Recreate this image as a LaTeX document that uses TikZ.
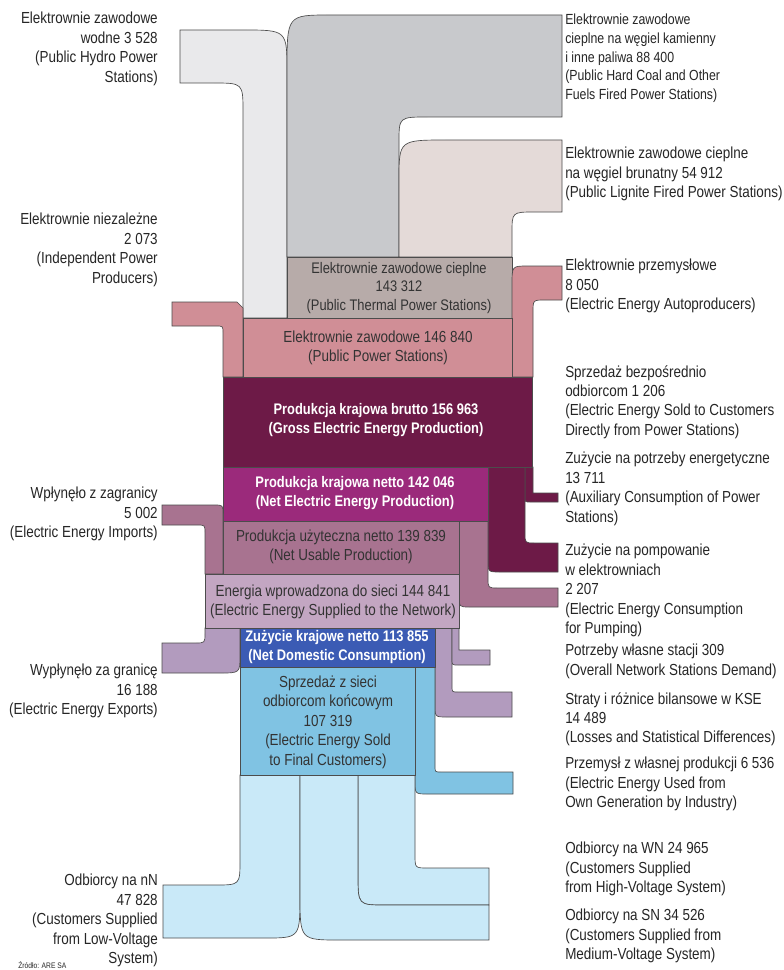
\documentclass[tikz,border=0pt]{standalone}
\usepackage{fontspec}
\setmainfont[FakeStretch=0.84]{Liberation Sans}
\definecolor{hydro}{HTML}{E9E9EB}
\definecolor{coal}{HTML}{C8C9CC}
\definecolor{lignite}{HTML}{E4DAD8}
\definecolor{thermal}{HTML}{B7ABA9}
\definecolor{public}{HTML}{D08E96}
\definecolor{gross}{HTML}{6D1A47}
\definecolor{netprod}{HTML}{9B2A7B}
\definecolor{usable}{HTML}{A87390}
\definecolor{network}{HTML}{C3A6C2}
\definecolor{export}{HTML}{B29BBE}
\definecolor{domestic}{HTML}{3B5BB4}
\definecolor{final}{HTML}{80C3E3}
\definecolor{users}{HTML}{C9E9F8}
\begin{document}
\begin{tikzpicture}[x=0.75pt,y=-0.75pt,font=\fontsize{12}{14.6}\selectfont,
		part/.style={draw=black!70,line width=0.5pt},
		lleft/.style={anchor=north east,align=right,inner sep=0pt,text=black!85},
		lright/.style={anchor=north west,align=left,inner sep=0pt,text=black!85},
		boxtext/.style={align=center,inner sep=0pt,text=black!80},
		boxbold/.style={align=center,inner sep=0pt,text=white,font=\fontsize{11.5}{14}\selectfont\bfseries}]
	\useasboundingbox [fill=white] (0,0) rectangle (783,970);
	\draw [part,fill=hydro] (180,30) -- (243,30) .. controls (287,30) .. (287,72) -- (287,318) -- (243,318) -- (243,112) .. controls (243,83) .. (213,83) -- (180,83) -- cycle;
	\draw [part,fill=coal] (562,15) -- (330,15) .. controls (287,15) .. (287,70) -- (287,257) -- (399,257) -- (399,142) .. controls (399,117) .. (428,117) -- (562,117) -- cycle;
	\draw [part,fill=lignite] (562,140) -- (447,140) .. controls (399,140) .. (399,180) -- (399,257) -- (512,257) -- (512,233) .. controls (512,212) .. (535,212) -- (562,212) -- cycle;
	\draw [part,fill=thermal] (287,257) rectangle (512,318);
	\draw [part,fill=public] (172,302) -- (237,302) -- (243,308) -- (243,377) -- (223,377) -- (223,333) .. controls (223,326) .. (216,326) -- (172,326) -- cycle;
	\draw [part,fill=public] (562,266) -- (528,266) .. controls (512,266) .. (512,284) -- (512,377) -- (533,377) -- (533,312) .. controls (533,300) .. (545,300) -- (562,300) -- cycle;
	\draw [part,fill=public] (243,318) rectangle (512,377);
	\draw [part,fill=gross] (525,467) -- (533,467) -- (533,493) -- (558,493) -- (558,502) -- (530,502) .. controls (525,502) .. (525,497) -- cycle;
	\draw [part,fill=gross] (488,467) -- (525,467) -- (525,533) .. controls (525,543) .. (535,543) -- (558,543) -- (558,572) -- (500,572) .. controls (488,572) .. (488,560) -- cycle;
	\draw [part,fill=gross] (223,377) rectangle (532,467);
	\draw [part,fill=usable] (459,521) -- (488,521) -- (488,578) .. controls (488,588) .. (498,588) -- (558,588) -- (558,607) -- (470,607) .. controls (459,607) .. (459,596) -- cycle;
	\draw [part,fill=netprod] (223,467) rectangle (488,521);
	\draw [part,fill=usable] (162,505) -- (214,505) .. controls (223,505) .. (223,514) -- (223,574) -- (205,574) -- (205,533) .. controls (205,525) .. (197,525) -- (162,525) -- cycle;
	\draw [part,fill=usable] (223,521) rectangle (459,574);
	\draw [part,fill=export] (205,628) -- (240,628) -- (240,655) .. controls (240,673) .. (220,673) -- (162,673) -- (162,643) -- (195,643) .. controls (205,643) .. (205,633) -- cycle;
	\draw [part,fill=export] (435,628) -- (452,628) -- (452,686) .. controls (452,692) .. (458,692) -- (512,692) -- (512,717) -- (447,717) .. controls (435,717) .. (435,705) -- cycle;
	\draw [part,fill=export] (452,628) -- (459,628) -- (459,650) -- (490,650) -- (490,665) -- (458,665) .. controls (452,665) .. (452,659) -- cycle;
	\draw [part,fill=network] (205,574) rectangle (459,628);
	\draw [part,fill=final] (415,667) -- (435,667) -- (435,766) .. controls (435,772) .. (441,772) -- (513,772) -- (513,794) -- (428,794) .. controls (415,794) .. (415,781) -- cycle;
	\draw [part,fill=users] (240,775) -- (300,775) -- (300,895) .. controls (300,938) .. (265,938) -- (163,938) -- (163,885) -- (215,885) .. controls (240,885) .. (240,860) -- cycle;
	\draw [part,fill=users] (358,775) -- (415,775) -- (415,855) .. controls (415,868) .. (428,868) -- (489,868) -- (489,905) -- (385,905) .. controls (358,905) .. (358,875) -- cycle;
	\draw [part,fill=users] (300,775) -- (358,775) -- (358,875) .. controls (358,905) .. (385,905) -- (489,905) -- (489,940) -- (340,940) .. controls (300,940) .. (300,895) -- cycle;
	\draw [part,fill=domestic] (240,628) rectangle (435,667);
	\draw [part,fill=final] (240,667) rectangle (415,775);
	\node [boxtext,font=\fontsize{11.5}{13.6}\selectfont] (thermaltxt) at (399,288) {Elektrownie zawodowe cieplne\\143 312\\(Public Thermal Power Stations)};
	\node [boxtext] (publictxt) at (378,348) {Elektrownie zawodowe 146 840\\(Public Power Stations)};
	\node [boxbold] (grosstxt) at (376,420) {Produkcja krajowa brutto 156 963\\(Gross Electric Energy Production)};
	\node [boxbold] (nettxt) at (355,493) {Produkcja krajowa netto 142 046\\(Net Electric Energy Production)};
	\node [boxtext] (usabletxt) at (341,547) {Produkcja użyteczna netto 139 839\\(Net Usable Production)};
	\node [boxtext] (networktxt) at (333,602) {Energia wprowadzona do sieci 144 841\\(Electric Energy Supplied to the Network)};
	\node [boxbold] (domestictxt) at (337,647) {Zużycie krajowe netto 113 855\\(Net Domestic Consumption)};
	\node [boxtext] (finaltxt) at (328,722) {Sprzedaż z sieci\\odbiorcom końcowym\\107 319\\(Electric Energy Sold\\to Final Customers)};
	\node [lleft] (hydrolbl) at (158,12) {Elektrownie zawodowe\\wodne 3 528\\(Public Hydro Power\\Stations)};
	\node [lleft] (indeplbl) at (158,213) {Elektrownie niezależne\\2 073\\(Independent Power\\Producers)};
	\node [lleft] (importlbl) at (158,487) {Wpłynęło z zagranicy\\5 002\\(Electric Energy Imports)};
	\node [lleft] (exportlbl) at (158,664) {Wypłynęło za granicę\\16 188\\(Electric Energy Exports)};
	\node [lleft] (lowlbl) at (158,874) {Odbiorcy na nN\\47 828\\(Customers Supplied\\from Low-Voltage\\System)};
	\node [lright,font=\fontsize{11}{14}\selectfont] (coallbl) at (565,14) {Elektrownie zawodowe\\cieplne na węgiel kamienny\\i inne paliwa 88 400\\(Public Hard Coal and Other\\Fuels Fired Power Stations)};
	\node [lright] (lignitelbl) at (565,147) {Elektrownie zawodowe cieplne\\na węgiel brunatny 54 912\\(Public Lignite Fired Power Stations)};
	\node [lright] (autolbl) at (565,259) {Elektrownie przemysłowe\\8 050\\(Electric Energy Autoproducers)};
	\node [lright] (directlbl) at (565,365) {Sprzedaż bezpośrednio\\odbiorcom 1 206\\(Electric Energy Sold to Customers\\Directly from Power Stations)};
	\node [lright] (auxlbl) at (565,452) {Zużycie na potrzeby energetyczne\\13 711\\(Auxiliary Consumption of Power\\Stations)};
	\node [lright] (pumplbl) at (565,544) {Zużycie na pompowanie\\w elektrowniach\\2 207\\(Electric Energy Consumption\\for Pumping)};
	\node [lright] (stationlbl) at (565,644) {Potrzeby własne stacji 309\\(Overall Network Stations Demand)};
	\node [lright] (losslbl) at (565,692) {Straty i różnice bilansowe w KSE\\14 489\\(Losses and Statistical Differences)};
	\node [lright] (industrylbl) at (565,757) {Przemysł z własnej produkcji 6 536\\(Electric Energy Used from\\Own Generation by Industry)};
	\node [lright] (highlbl) at (565,842) {Odbiorcy na WN 24 965\\(Customers Supplied\\from High-Voltage System)};
	\node [lright] (mediumlbl) at (565,909) {Odbiorcy na SN 34 526\\(Customers Supplied from\\Medium-Voltage System)};
	\node [lright,font=\fontsize{6}{7}\selectfont] (sourcelbl) at (18,961) {Źródło: ARE SA};
\end{tikzpicture}
\end{document}
